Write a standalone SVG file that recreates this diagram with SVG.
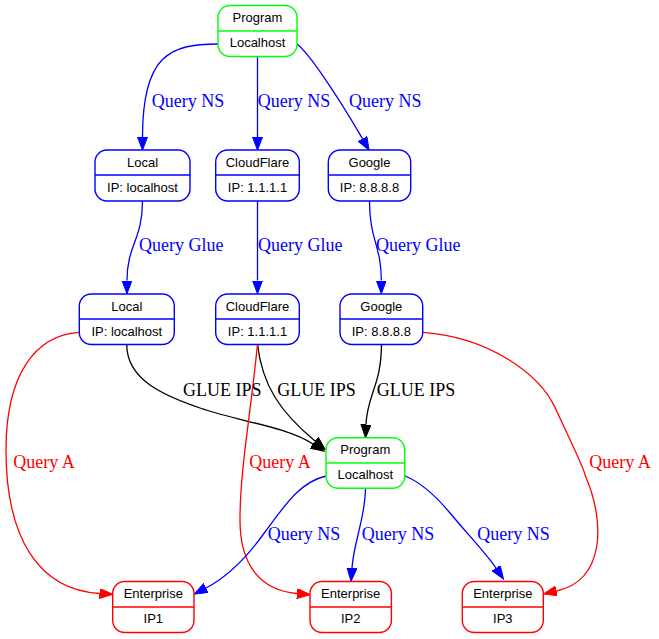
<svg xmlns="http://www.w3.org/2000/svg" width="659" height="639" viewBox="0 0 659 639">
<defs>
<marker id="ab" markerUnits="userSpaceOnUse" markerWidth="14" markerHeight="11" refX="0" refY="5" orient="auto"><path d="M0,0 L13.3,5 L0,10 Z" fill="#0000ff" stroke="#0000ff" stroke-width="1"/></marker>
<marker id="ak" markerUnits="userSpaceOnUse" markerWidth="14" markerHeight="11" refX="0" refY="5" orient="auto"><path d="M0,0 L13.3,5 L0,10 Z" fill="#000000" stroke="#000000" stroke-width="1"/></marker>
<marker id="ar" markerUnits="userSpaceOnUse" markerWidth="14" markerHeight="11" refX="0" refY="5" orient="auto"><path d="M0,0 L13.3,5 L0,10 Z" fill="#ff0000" stroke="#ff0000" stroke-width="1"/></marker>
</defs>
<style>
.n rect{fill:#ffffff;stroke-width:1.4}
.n line{stroke-width:1.4}
.n text{font-family:"Liberation Sans",Arial,sans-serif;font-size:13px;text-anchor:middle;fill:#000}
.g rect,.g line{stroke:#00ff00}
.b rect,.b line{stroke:#0000ff}
.r rect,.r line{stroke:#ff0000}
.e path{fill:none;stroke-width:1.3}
.eb{stroke:#0000ff;marker-end:url(#ab)}
.ek{stroke:#000000;marker-end:url(#ak)}
.er{stroke:#ff0000;marker-end:url(#ar)}
.l{font-family:"Liberation Serif","Times New Roman",serif;font-size:18px}
.lb{fill:#0000ff}.lk{fill:#000}.lr{fill:#ff0000}
</style>
<rect width="659" height="639" fill="#ffffff"/>
<g id="edges" class="e">
<path class="eb" d="M218,44 C170,44 142.5,55 142.5,137"/>
<path class="eb" d="M257.5,56.5 L257.5,137"/>
<path class="eb" d="M297,44 C310,54 340,100 362.5,138.7"/>
<path class="eb" d="M142.5,201 C142.5,240 127,245 127,280.5"/>
<path class="eb" d="M257.5,201 L257.5,280.5"/>
<path class="eb" d="M369.5,201 C369.5,240 381.3,245 381.3,280.5"/>
<path class="ek" d="M126.8,344 C126,380 165,396 200,408 C240,422 285,426 313,444"/>
<path class="ek" d="M257.5,344 C262,385 280,412 315,441"/>
<path class="ek" d="M381.5,344 C381.5,385 367,395 366,424.5"/>
<path class="er" d="M79.3,332.3 C35,335 6,375 6,450 C6,540 40,590 99.5,593.5"/>
<path class="er" d="M257.5,344 C250,420 240,470 240,520 C240,565 260,590 297,593.5"/>
<path class="er" d="M422.7,332.3 C490,337 540,375 555,407.5 C570,440 585,470 585,475 C605,520 606,580 556.5,591"/>
<path class="eb" d="M326,476 C300,482 285,505 265,532 C245,560 225,578 206,588"/>
<path class="eb" d="M365.5,488.3 C365,520 354,540 352,568"/>
<path class="eb" d="M405,476 C420,482 435,495 450,513 C470,537 485,552 496,568"/>
</g>
<g id="labels">
<text class="l lb" x="151.7" y="107">Query NS</text>
<text class="l lb" x="257.7" y="107">Query NS</text>
<text class="l lb" x="349" y="107">Query NS</text>
<text class="l lb" x="139" y="251">Query Glue</text>
<text class="l lb" x="258" y="251">Query Glue</text>
<text class="l lb" x="376" y="251">Query Glue</text>
<text class="l lk" x="183" y="396">GLUE IPS</text>
<text class="l lk" x="277.3" y="396">GLUE IPS</text>
<text class="l lk" x="376.7" y="396">GLUE IPS</text>
<text class="l lr" x="13.3" y="468">Query A</text>
<text class="l lr" x="249.3" y="468">Query A</text>
<text class="l lr" x="589.3" y="468">Query A</text>
<text class="l lb" x="267.7" y="540">Query NS</text>
<text class="l lb" x="361.7" y="540">Query NS</text>
<text class="l lb" x="477.3" y="540">Query NS</text>
</g>
<g id="program_top" class="n g"><rect x="218" y="5.5" width="79" height="51" rx="12"/><line x1="218" y1="31" x2="297" y2="31"/><text x="257.5" y="22">Program</text><text x="257.5" y="47">Localhost</text></g>
<g id="local_ns" class="n b"><rect x="95" y="150" width="95" height="51" rx="12"/><line x1="95" y1="175" x2="190" y2="175"/><text x="142.5" y="166.5">Local</text><text x="142.5" y="191.5">IP: localhost</text></g>
<g id="cloudflare_ns" class="n b"><rect x="215.7" y="150" width="83.6" height="51" rx="12"/><line x1="215.7" y1="175" x2="299.3" y2="175"/><text x="257.5" y="166.5">CloudFlare</text><text x="257.5" y="191.5">IP: 1.1.1.1</text></g>
<g id="google_ns" class="n b"><rect x="328.3" y="150" width="82.4" height="51" rx="12"/><line x1="328.3" y1="175" x2="410.7" y2="175"/><text x="369.5" y="166.5">Google</text><text x="369.5" y="191.5">IP: 8.8.8.8</text></g>
<g id="local_glue" class="n b"><rect x="79.3" y="294" width="95" height="50.5" rx="12"/><line x1="79.3" y1="319" x2="174.3" y2="319"/><text x="126.8" y="310.5">Local</text><text x="126.8" y="335.5">IP: localhost</text></g>
<g id="cloudflare_glue" class="n b"><rect x="215.7" y="294" width="83.6" height="50.5" rx="12"/><line x1="215.7" y1="319" x2="299.3" y2="319"/><text x="257.5" y="310.5">CloudFlare</text><text x="257.5" y="335.5">IP: 1.1.1.1</text></g>
<g id="google_glue" class="n b"><rect x="340" y="294" width="82.7" height="50.5" rx="12"/><line x1="340" y1="319" x2="422.7" y2="319"/><text x="381.3" y="310.5">Google</text><text x="381.3" y="335.5">IP: 8.8.8.8</text></g>
<g id="program_mid" class="n g"><rect x="326" y="437.7" width="78.7" height="50.6" rx="12"/><line x1="326" y1="463" x2="404.7" y2="463"/><text x="365.3" y="454.2">Program</text><text x="365.3" y="479.2">Localhost</text></g>
<g id="enterprise1" class="n r"><rect x="112.7" y="581.5" width="81.3" height="51" rx="12"/><line x1="112.7" y1="607" x2="194" y2="607"/><text x="153.3" y="598">Enterprise</text><text x="153.3" y="623">IP1</text></g>
<g id="enterprise2" class="n r"><rect x="310" y="581.5" width="81.4" height="51" rx="12"/><line x1="310" y1="607" x2="391.4" y2="607"/><text x="350.7" y="598">Enterprise</text><text x="350.7" y="623">IP2</text></g>
<g id="enterprise3" class="n r"><rect x="462.3" y="581.5" width="81" height="51" rx="12"/><line x1="462.3" y1="607" x2="543.3" y2="607"/><text x="502.8" y="598">Enterprise</text><text x="502.8" y="623">IP3</text></g>
</svg>
